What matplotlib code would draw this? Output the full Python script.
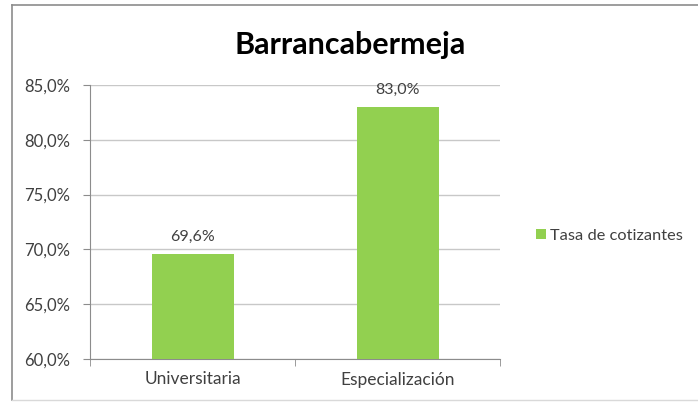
import matplotlib.pyplot as plt
from matplotlib.ticker import FuncFormatter
from matplotlib.lines import Line2D

categories = ['Universitaria', 'Especialización']
values = [69.6, 83.0]
series_name = 'Tasa de cotizantes'
title = 'Barrancabermeja'
yticks = [60, 65, 70, 75, 80, 85]


def pct_fmt(v, pos=None):
	return ('%.1f%%' % v).replace('.', ',')


def main():
	plt.rcParams['font.family'] = ['Lato', 'DejaVu Sans']
	fig = plt.figure(figsize=(6.98, 4.03), dpi=100)
	ax = fig.add_axes([90/698, 1 - 359/403, 410/698, 274/403])

	# chart frame like the spreadsheet export (right edge is cut off)
	top = 1 - 5/403
	fig.add_artist(Line2D([12/698, 12/698], [1 - 400/403, top], color='#8c8c8c', lw=1.2, transform=fig.transFigure))
	fig.add_artist(Line2D([12/698, 1], [top, top], color='#8c8c8c', lw=1.2, transform=fig.transFigure))
	fig.add_artist(Line2D([12/698, 1], [1 - 400/403, 1 - 400/403], color='#d9d9d9', lw=1, transform=fig.transFigure))

	pos = list(range(len(categories)))
	bars = ax.bar(pos, values, width=0.4, color='#92d050', label=series_name, zorder=3)
	for b, v in zip(bars, values):
		ax.annotate(pct_fmt(v), (b.get_x() + b.get_width()/2, v), xytext=(0, 7),
					textcoords='offset points', ha='center', va='bottom', fontsize=11.5, color='#404040')

	ax.set_ylim(60, 85)
	ax.set_xlim(-0.5, len(categories) - 0.5)
	ax.set_yticks(yticks)
	ax.yaxis.set_major_formatter(FuncFormatter(pct_fmt))
	ax.yaxis.grid(True, color='#c8c8c8', lw=1, zorder=0)
	ax.set_xticks(pos)
	ax.set_xticklabels(categories)
	ax.set_xticks([p - 0.5 for p in pos] + [pos[-1] + 0.5], minor=True)
	ax.tick_params(axis='x', which='major', length=0, pad=9, labelsize=12.5, labelcolor='#404040')
	ax.tick_params(axis='x', which='minor', length=5, color='#8c8c8c')
	ax.tick_params(axis='y', length=5, color='#8c8c8c', labelsize=12, labelcolor='#404040', pad=9)
	for s in ['top', 'right']:
		ax.spines[s].set_visible(False)
	ax.spines['left'].set_color('#8c8c8c')
	ax.spines['bottom'].set_color('#8c8c8c')

	fig.text(350/698, 1 - 45/403, title, ha='center', va='center', fontsize=22, fontweight='bold', color='black')
	fig.legend(loc='center left', bbox_to_anchor=(521/698, 1 - 236/403), frameon=False,
			   fontsize=11.8, handlelength=0.6, handleheight=0.6, handletextpad=0.25, labelcolor='#404040')

	fig.savefig('out.png', dpi=100)


if __name__ == '__main__':
	main()
